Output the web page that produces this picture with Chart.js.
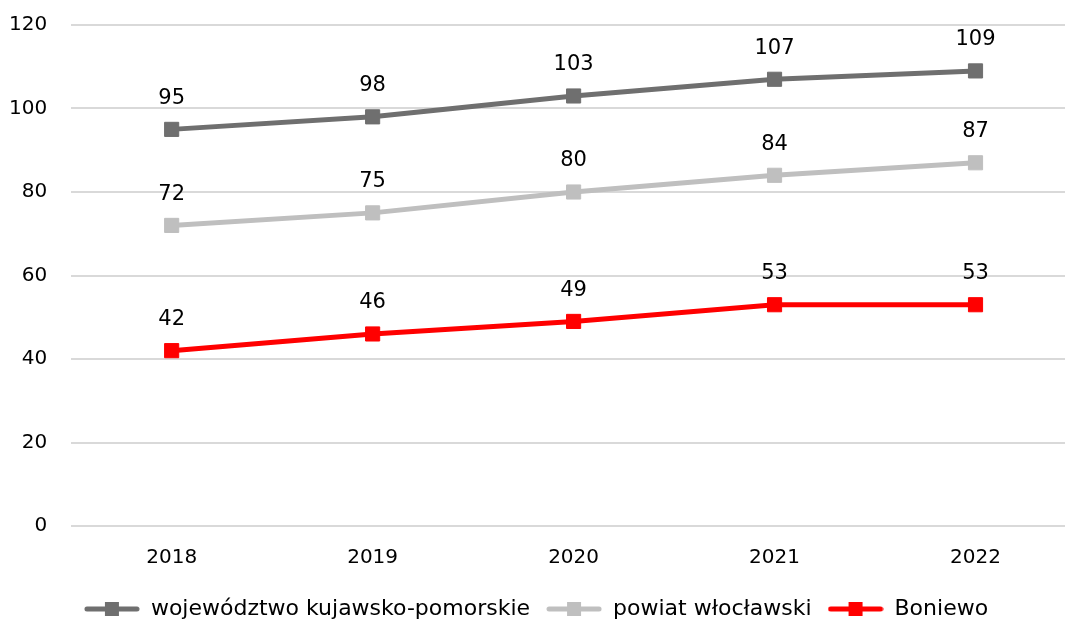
<!DOCTYPE html>
<html>
<head>
<meta charset="utf-8">
<script src="https://cdn.jsdelivr.net/npm/chart.js@4"></script>
<style>
  html, body { margin: 0; padding: 0; background: #fff; overflow: hidden; width: 1065px; height: 619px; }
  #chart { position: absolute; left: 0; top: -11px; }
</style>
</head>
<body>
<canvas id="chart" width="1087" height="633"></canvas>
<script>
// Data ==========================================
const years = ["2018", "2019", "2020", "2021", "2022"];
const seriesNames = ["województwo kujawsko-pomorskie", "powiat włocławski", "Boniewo"];
const wojewodztwo = [95, 98, 103, 107, 109];
const powiat = [72, 75, 80, 84, 87];
const boniewo = [42, 46, 49, 53, 53];
const yTicks = [0, 20, 40, 60, 80, 100, 120];

const colors = ["#6f6f6f", "#bfbfbf", "#ff0000"];
const FONT = "'DejaVu Sans', sans-serif";

// legend marker: line with square in the middle
function legendMarker(color) {
  const c = document.createElement("canvas");
  c.width = 56;
  c.height = 16;
  const g = c.getContext("2d");
  g.strokeStyle = color;
  g.lineWidth = 5;
  g.lineCap = "round";
  g.beginPath();
  g.moveTo(3, 8);
  g.lineTo(53, 8);
  g.stroke();
  g.fillStyle = color;
  g.fillRect(21, 1, 14, 14);
  return c;
}

// value labels above points
const valueLabels = {
  id: "valueLabels",
  afterDatasetsDraw(chart) {
    const ctx = chart.ctx;
    ctx.save();
    ctx.font = "21px " + FONT;
    ctx.fillStyle = "#000";
    ctx.textAlign = "center";
    ctx.textBaseline = "middle";
    chart.data.datasets.forEach((ds, i) => {
      chart.getDatasetMeta(i).data.forEach((pt, j) => {
        ctx.fillText(ds.data[j], pt.x, pt.y - 31);
      });
    });
    ctx.restore();
  },
};

const makeSet = (label, data, color) => ({
  label: label,
  data: data,
  borderColor: color,
  backgroundColor: color,
  borderWidth: 5,
  pointStyle: "rect",
  pointRadius: 10,
  pointHoverRadius: 10,
  pointBorderWidth: 1,
  tension: 0,
});

new Chart(document.getElementById("chart"), {
  type: "line",
  data: {
    labels: years,
    datasets: [
      makeSet(seriesNames[0], wojewodztwo, colors[0]),
      makeSet(seriesNames[1], powiat, colors[1]),
      makeSet(seriesNames[2], boniewo, colors[2]),
    ],
  },
  options: {
    responsive: false,
    animation: false,
    layout: { padding: { left: -15, right: 0, top: 3, bottom: -8 } },
    scales: {
      x: {
        offset: true,
        grid: { display: false },
        border: { display: false },
        ticks: { color: "#000", font: { family: FONT, size: 20 }, padding: 12 },
      },
      y: {
        min: 0,
        max: 120,
        afterBuildTicks(axis) {
          axis.ticks = yTicks.map((v) => ({ value: v }));
        },
        grid: { color: "#d9d9d9", lineWidth: 2, drawTicks: false },
        border: { display: false },
        ticks: { color: "#000", font: { family: FONT, size: 20 }, padding: 24 },
      },
    },
    plugins: {
      tooltip: { enabled: false },
      legend: {
        position: "bottom",
        labels: {
          color: "#000",
          font: { family: FONT, size: 22 },
          usePointStyle: true,
          pointStyleWidth: 56,
          padding: 16,
          generateLabels(chart) {
            return chart.data.datasets.map((ds, i) => ({
              text: ds.label,
              fillStyle: ds.borderColor,
              strokeStyle: ds.borderColor,
              pointStyle: legendMarker(ds.borderColor),
              lineWidth: 0,
              datasetIndex: i,
              fontColor: "#000",
            }));
          },
        },
      },
    },
  },
  plugins: [valueLabels],
});
</script>
</body>
</html>
